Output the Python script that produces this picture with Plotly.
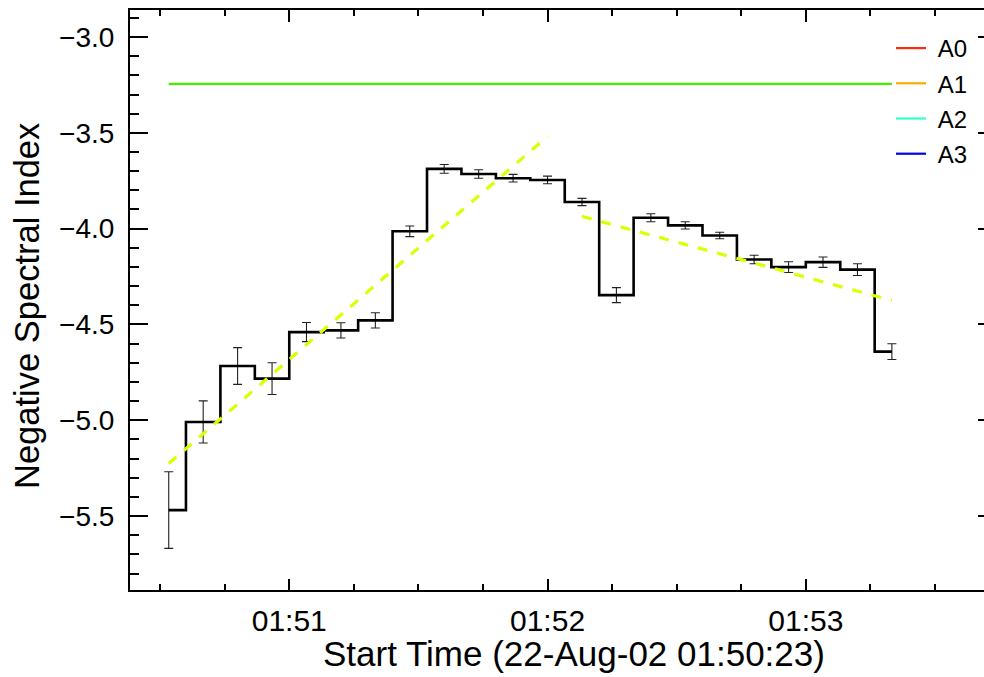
import plotly.graph_objects as go

# Bin centres, seconds after the start time 01:50:23
times = [9, 17, 25, 33, 41, 49, 57, 65, 73, 81, 89,
         97, 105, 113, 121, 129, 137, 145, 153, 161, 169, 177]

# Negative spectral index per bin and its 1-sigma uncertainty
index_vals = [-5.469, -5.009, -4.717, -4.783, -4.540, -4.531, -4.479, -4.014,
              -3.688, -3.715, -3.737, -3.746, -3.861, -4.347, -3.943, -3.983,
              -4.036, -4.161, -4.201, -4.175, -4.214, -4.642]
index_err = [0.200, 0.110, 0.096, 0.083, 0.050, 0.040, 0.040, 0.028,
             0.023, 0.022, 0.020, 0.020, 0.019, 0.039, 0.021, 0.019,
             0.017, 0.022, 0.028, 0.027, 0.031, 0.041]

# Reference level drawn across the whole interval
level_value = -3.245

# Linear fits: rise phase and decay phase (start/end time, start/end index)
rise_t = [9, 97]
rise_y = [-5.226, -3.519]
decay_t = [105, 177]
decay_y = [-3.936, -4.375]

# Time-axis labels
tick_secs = [37, 97, 157]
tick_text = ["01:51", "01:52", "01:53"]

# Attenuator-state legend entries
legend_names = ["A0", "A1", "A2", "A3"]
legend_colors = ["#ff2a10", "#ffaa00", "#33ffcc", "#0000ee"]

FONT = "Liberation Sans, Arial, sans-serif"

fig = go.Figure()

fig.add_trace(go.Scatter(
    x=[times[0], times[-1]], y=[level_value, level_value],
    mode="lines", line=dict(color="#44ee00", width=2.2),
    showlegend=False, hoverinfo="skip"))

fig.add_trace(go.Scatter(
    x=times, y=index_vals, mode="lines",
    line=dict(color="black", width=2.6, shape="hvh"),
    error_y=dict(type="data", array=index_err, visible=True,
                 color="#222222", thickness=1.1, width=4.5),
    showlegend=False))

for tx, ty in ((rise_t, rise_y), (decay_t, decay_y)):
    fig.add_trace(go.Scatter(
        x=tx, y=ty, mode="lines",
        line=dict(color="#ddff00", width=3.2, dash="10px,10px"),
        showlegend=False, hoverinfo="skip"))

for name, col in zip(legend_names, legend_colors):
    fig.add_trace(go.Scatter(
        x=[None], y=[None], mode="lines", name="\u00a0" + name, legendgroup=name,
        line=dict(color=col, width=2.2)))

# invisible carrier for the right-hand tick stubs
fig.add_trace(go.Scatter(x=[None], y=[None], yaxis="y2",
                         showlegend=False, hoverinfo="skip"))

fig.update_layout(
    width=984, height=677,
    margin=dict(l=130, r=0, t=10, b=87),
    paper_bgcolor="white", plot_bgcolor="white",
    font=dict(family=FONT, color="black"),
    xaxis=dict(
        range=[0, 198.4], showgrid=False, zeroline=False,
        showline=True, linecolor="black", linewidth=2, mirror="ticks",
        ticks="inside", ticklen=11.5, tickwidth=2, tickcolor="black",
        tickmode="array", tickvals=tick_secs, ticktext=tick_text,
        tickfont=dict(family=FONT, size=30, color="black"),
        ticklabelstandoff=3,
        minor=dict(ticks="inside", ticklen=6, tickwidth=2, tickcolor="black",
                   dtick=15, tick0=7, showgrid=False),
    ),
    yaxis=dict(
        range=[-5.886, -2.859], showgrid=False, zeroline=False,
        showline=True, linecolor="black", linewidth=2, mirror=False,
        ticks="inside", ticklen=17.7, tickwidth=2, tickcolor="black",
        tickmode="linear", tick0=-3.0, dtick=0.5, tickformat=".1f",
        tickfont=dict(family=FONT, size=28, color="black"),
        ticklabelstandoff=8,
        minor=dict(ticks="inside", ticklen=8.5, tickwidth=2, tickcolor="black",
                   dtick=0.1, showgrid=False),
    ),
    yaxis2=dict(
        overlaying="y", side="right", matches="y", anchor="x",
        showgrid=False, zeroline=False, showline=False,
        ticks="inside", ticklen=6, tickwidth=2, tickcolor="black",
        tickmode="linear", tick0=-3.0, dtick=0.5, showticklabels=False,
    ),
    legend=dict(
        x=(891 - 130) / 854, y=(590 - 26) / 580, xanchor="left", yanchor="top",
        bgcolor="rgba(0,0,0,0)", borderwidth=0,
        font=dict(family=FONT, size=24, color="black"),
        tracegroupgap=1, itemwidth=30,
    ),
    annotations=[
        dict(text="Start Time (22-Aug-02 01:50:23)",
             xref="paper", yref="paper", x=(574 - 130) / 854, y=(590 - 653) / 580,
             xanchor="center", yanchor="middle", showarrow=False,
             font=dict(family=FONT, size=35, color="black")),
        dict(text="Negative Spectral Index",
             xref="paper", yref="paper", x=(27 - 130) / 854, y=(590 - 306) / 580,
             xanchor="center", yanchor="middle", textangle=-90, showarrow=False,
             font=dict(family=FONT, size=34.5, color="black")),
    ],
)

fig.write_html("out.html")
